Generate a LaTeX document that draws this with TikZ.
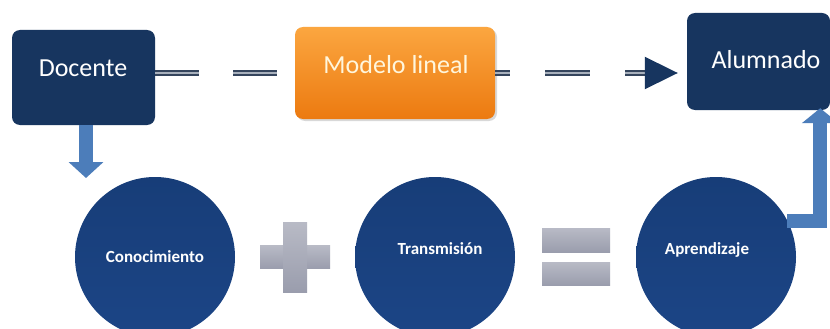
\documentclass[tikz,border=0pt]{standalone}
\usepackage{fontspec}
\setmainfont{Carlito}
\usetikzlibrary{arrows.meta,calc,shadows}
\definecolor{navy}{HTML}{17355F}
\definecolor{circblue}{HTML}{1C4586}
\definecolor{circtop}{HTML}{173D78}
\definecolor{orangetop}{HTML}{FBA640}
\definecolor{orangebot}{HTML}{EC7A10}
\definecolor{arrblue}{HTML}{4C7DBA}
\definecolor{linegray}{HTML}{34445C}
\definecolor{lineinner}{HTML}{A8B0BC}
\definecolor{grayop}{HTML}{9A9DAD}
\definecolor{paleyellow}{HTML}{FFF6DC}
\tikzset{
  navybox/.style={draw=none, fill=navy, rounded corners=8pt, inner sep=0pt},
  orangebox/.style={draw=none, top color=orangetop, bottom color=orangebot, rounded corners=8pt, inner sep=0pt, drop shadow={opacity=0.3, shadow xshift=2pt, shadow yshift=-2pt}},
  boxtext/.style={text=white, font=\fontsize{26}{28}\selectfont, inner sep=0pt},
  circ/.style={circle, draw=none, top color=circtop, bottom color=circblue, minimum size=160pt, inner sep=0pt},
  circtext/.style={text=white, font=\fontsize{17}{19}\selectfont\bfseries, inner sep=0pt},
  dconn/.style={draw=linegray, line width=2pt, double=lineinner, double distance=2.8pt},
  barrow/.style={draw=arrblue, line width=14pt, line join=miter},
  opbar/.style={draw=none, top color=grayop!70, bottom color=grayop, inner sep=0pt}
}
\begin{document}
\begin{tikzpicture}[x=1pt,y=-1pt]
\useasboundingbox (0,0) rectangle (830,329);
\clip (0,0) rectangle (830,329);
\fill[white] (0,0) rectangle (830,329);
% boxes
\node[navybox, minimum width=143pt, minimum height=95pt] (doc) at (83.5,77.5) {};
\node[boxtext] (doct) at (83,68) {Docente};
\node[orangebox, minimum width=200pt, minimum height=92pt] (mod) at (395,73) {};
\node[boxtext, text=paleyellow] (modt) at (396,65) {Modelo lineal};
\node[navybox, minimum width=143pt, minimum height=97pt] (alu) at (758.5,61.5) {};
\node[boxtext] (alut) at (766,60) {Alumnado};
% circles
\node[circ] (con) at (155,257) {};
\node[circtext] at (155,257) {Conocimiento};
\node[circ] (tra) at (435,257) {};
\node[circtext] at (440,249) {Transmisión};
\node[circ] (apr) at (716,257) {};
\node[circtext] at (707,250) {Aprendizaje};
% plus and equals
\node[opbar, minimum width=70pt, minimum height=23pt] (plush) at (295,257) {};
\node[opbar, minimum width=24pt, minimum height=70pt] (plusv) at (295,257) {};
\node[opbar, minimum width=68pt, minimum height=24pt] (eqa) at (576,240) {};
\node[opbar, minimum width=68pt, minimum height=23pt] (eqb) at (576,273.5) {};
% double dashed connectors
\draw[dconn, dash pattern=on 44pt off 34pt] (doc.east |- mod.west) -- (mod.west);
\draw[dconn, dash pattern=on 45pt off 35pt, dash phase=30pt, -{Triangle[length=33pt,width=32pt,fill=navy,color=navy]}, shorten >=9pt] (mod.east) -- (mod.east -| alu.west);
% block arrows
\coordinate (dtip) at (86,178);
\draw[barrow, -{Triangle[length=16pt,width=34pt]}] (doc.south -| dtip) -- (dtip);
\draw[barrow, -{Triangle[length=15pt,width=36pt]}] (apr.27) -| ([xshift=-10pt,yshift=2pt]alu.south east);
\end{tikzpicture}
\end{document}
